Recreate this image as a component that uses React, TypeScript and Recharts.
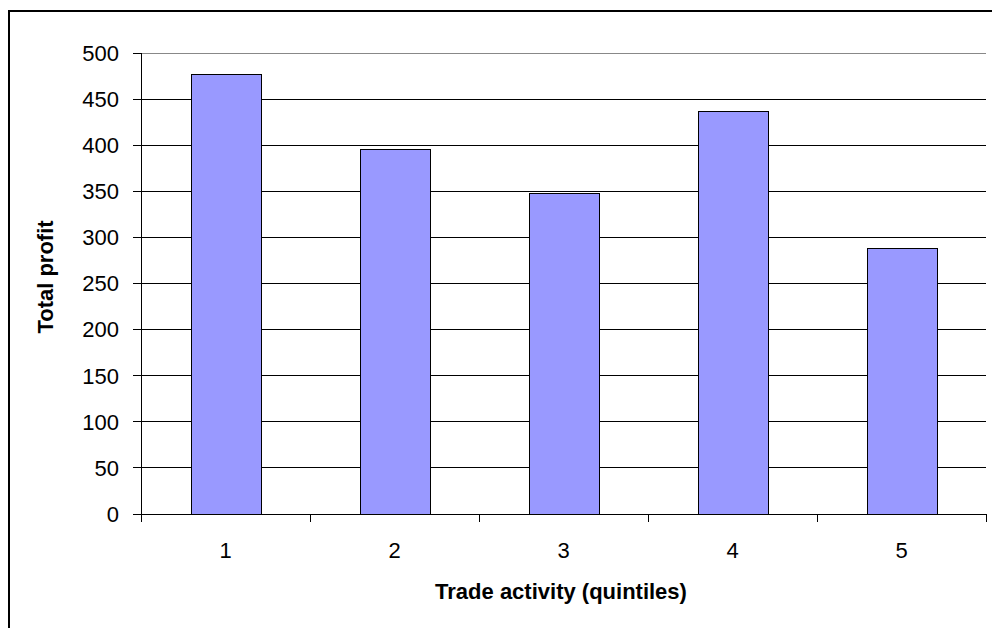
import React from "react"
import { BarChart, Bar, XAxis, YAxis, CartesianGrid } from "recharts"

const quintiles = ["1", "2", "3", "4", "5"]
const totalProfit = [477, 395, 348, 437, 288]
const yTicks = [0, 50, 100, 150, 200, 250, 300, 350, 400, 450, 500]

const data = quintiles.map((q, i) => ({ quintile: q, profit: totalProfit[i] }))

const CHART_W = 982
const CHART_H = 616
const MARGIN = { top: 41, right: 6, bottom: 0, left: 0 }
const Y_AXIS_W = 131
const X_AXIS_H = CHART_H - 502
const FONT = "'Liberation Sans', Arial, sans-serif"

// x ticks sit on the category boundaries, labels in the middle
const XTick = (props: any) => {
  const { x, y, payload } = props
  const band = (CHART_W - MARGIN.left - MARGIN.right - Y_AXIS_W) / quintiles.length
  const left = x - band / 2
  const right = x + band / 2
  const last = String(payload.value) === quintiles[quintiles.length - 1]
  return (
    <g>
      <line x1={left} y1={y} x2={left} y2={y + 8} stroke="#000" />
      {last && <line x1={right} y1={y} x2={right} y2={y + 8} stroke="#000" />}
      <text x={x} y={y + 28} dy="0.71em" textAnchor="middle" fill="#000" fontSize={22} fontFamily={FONT}>
        {payload.value}
      </text>
    </g>
  )
}

export default function App() {
  return (
    <div style={{ padding: "10px 0 0 8px" }}>
      <style>{`body { margin: 0; } .recharts-surface line, .recharts-surface path, .recharts-surface rect { shape-rendering: crispEdges; }`}</style>
      <div style={{ borderTop: "2px solid #000", borderLeft: "2px solid #000", width: CHART_W, height: CHART_H, background: "#fff" }}>
        <BarChart width={CHART_W} height={CHART_H} data={data} margin={MARGIN}>
          <CartesianGrid vertical={false} stroke="#000" fill="none" />
          <CartesianGrid vertical={false} stroke="#888" horizontalCoordinatesGenerator={({ offset }: any) => [offset.top]} />
          <XAxis
            dataKey="quintile"
            height={X_AXIS_H}
            tickLine={false}
            tickSize={0}
            tickMargin={0}
            axisLine={{ stroke: "#000" }}
            tick={<XTick />}
            interval={0}
            label={() => (
              <text x={551} y={579} dy="0.35em" textAnchor="middle" fontSize={22} fontWeight="bold" fontFamily={FONT} fill="#000">
                Trade activity (quintiles)
              </text>
            )}
          />
          <YAxis
            width={Y_AXIS_W}
            domain={[0, 500]}
            ticks={yTicks}
            interval={0}
            tickSize={8}
            tickMargin={14}
            tickLine={{ stroke: "#000" }}
            axisLine={{ stroke: "#000" }}
            tick={{ fill: "#000", fontSize: 22, fontFamily: FONT }}
            label={() => (
              <text
                x={35}
                y={265}
                dy="0.35em"
                transform="rotate(-90 35 265)"
                textAnchor="middle"
                fontSize={22}
                fontWeight="bold"
                fontFamily={FONT}
                fill="#000"
              >
                Total profit
              </text>
            )}
          />
          {/* gray right edge of the plot area */}
          <YAxis
            yAxisId="frame"
            orientation="right"
            width={0}
            domain={[0, 500]}
            tick={false}
            tickLine={false}
            axisLine={{ stroke: "#888" }}
          />
          <Bar dataKey="profit" fill="#9999FF" stroke="#000" strokeWidth={1} barSize={70} isAnimationActive={false} />
        </BarChart>
      </div>
    </div>
  )
}
